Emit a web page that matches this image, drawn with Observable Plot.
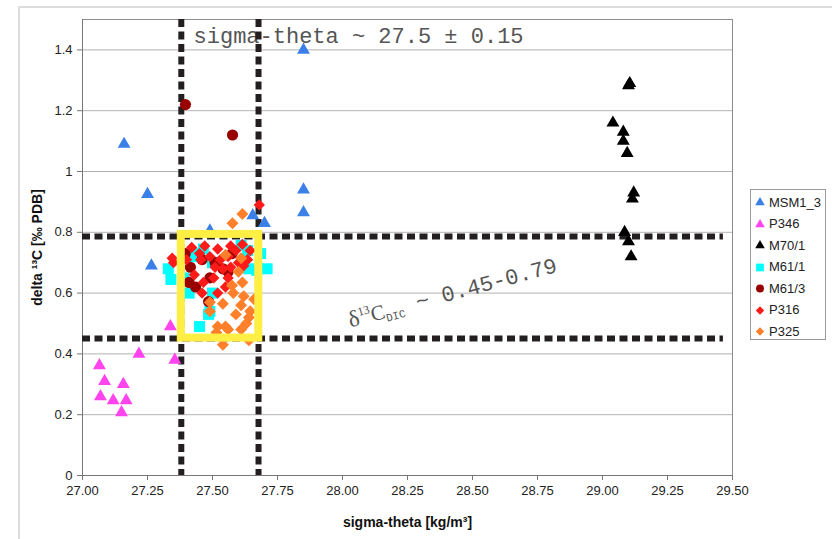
<!DOCTYPE html>
<html>
<head>
<meta charset="utf-8">
<script src="https://cdn.jsdelivr.net/npm/d3@7"></script>
<script src="https://cdn.jsdelivr.net/npm/@observablehq/plot@0.6"></script>
<style>
  html, body { margin: 0; padding: 0; background: #fff; overflow: hidden; }
  #wrap { position: relative; width: 832px; height: 539px; overflow: hidden; font-family: "Liberation Sans", Arial, sans-serif; }
  #outer { position: absolute; left: 18px; top: 6px; width: 900px; height: 700px; border: 2px solid #dcdcdc; box-sizing: border-box; }
  #chart { position: absolute; left: 0; top: 0; }
  #legend { position: absolute; left: 750px; top: 189px; width: 76px; height: 151px; border: 1px solid #9a9a9a; box-sizing: border-box; background: #fff; }
  .item { position: absolute; left: 3px; height: 20px; display: flex; align-items: center; font-size: 13px; color: #222; }
  .item svg { margin-right: 3px; }
</style>
</head>
<body>
<div id="wrap">
  <div id="outer"></div>
  <div id="chart"></div>
  <div id="legend"></div>
</div>
<script>
// ---- data ----
const seriesNames = ["MSM1_3", "P346", "M70/1", "M61/1", "M61/3", "P316", "P325"];
const xTicks = [27.00, 27.25, 27.50, 27.75, 28.00, 28.25, 28.50, 28.75, 29.00, 29.25, 29.50];
const yTicks = [0, 0.2, 0.4, 0.6, 0.8, 1, 1.2, 1.4];

const msm13 = [[27.16,1.09],[27.25,0.925],[27.85,1.40],[27.85,0.94],[27.85,0.865],[27.655,0.855],[27.70,0.83],[27.49,0.805],[27.265,0.69]];
const p346 = [[27.065,0.362],[27.085,0.31],[27.069,0.26],[27.118,0.247],[27.157,0.30],[27.168,0.247],[27.15,0.207],[27.217,0.40],[27.338,0.49],[27.355,0.38]];
const m701 = [[29.10,1.283],[29.105,1.29],[29.04,1.16],[29.08,1.13],[29.08,1.10],[29.095,1.06],[29.12,0.93],[29.115,0.91],[29.085,0.80],[29.10,0.77],[29.11,0.72]];
const m611 = [[27.33,0.68],[27.34,0.645],[27.39,0.65],[27.41,0.60],[27.43,0.72],[27.45,0.73],[27.465,0.745],[27.50,0.70],[27.50,0.60],[27.49,0.54],[27.485,0.53],[27.45,0.49],[27.61,0.757],[27.635,0.74],[27.64,0.68],[27.67,0.675],[27.685,0.73],[27.71,0.68]];
const m613 = [[27.396,1.22],[27.577,1.12],[27.395,0.73],[27.415,0.685],[27.41,0.635],[27.46,0.71],[27.49,0.65],[27.435,0.62],[27.51,0.70],[27.54,0.68],[27.56,0.67],[27.575,0.73],[27.485,0.572]];
const p316 = [[27.68,0.89],[27.345,0.715],[27.35,0.70],[27.40,0.71],[27.42,0.75],[27.45,0.73],[27.47,0.755],[27.49,0.72],[27.52,0.745],[27.53,0.71],[27.57,0.755],[27.59,0.74],[27.615,0.76],[27.645,0.74],[27.455,0.71],[27.46,0.60],[27.52,0.60],[27.505,0.65],[27.56,0.65],[27.56,0.72],[27.60,0.70],[27.51,0.685],[27.465,0.635],[27.43,0.66],[27.635,0.71],[27.57,0.685],[27.54,0.68],[27.55,0.62],[27.62,0.69]];
const p325 = [[27.615,0.86],[27.577,0.83],[27.55,0.725],[27.61,0.715],[27.60,0.67],[27.615,0.635],[27.575,0.625],[27.58,0.60],[27.62,0.59],[27.66,0.58],[27.49,0.57],[27.54,0.565],[27.61,0.56],[27.645,0.54],[27.49,0.54],[27.59,0.53],[27.64,0.52],[27.63,0.50],[27.52,0.49],[27.55,0.49],[27.56,0.48],[27.515,0.47],[27.61,0.48],[27.64,0.445],[27.54,0.43]];

const sigmaBand = [27.38, 27.677];     // vertical dashed lines
const dicBand = [0.451, 0.786];        // horizontal dashed lines
const boxX = [27.38, 27.678];
const boxY = [0.452, 0.793];
const topNote = "sigma-theta ~ 27.5 ± 0.15";
const dicNote = "δ13CDIC ~ 0.45-0.79";

// ---- styles per series ----
const styles = {
  "MSM1_3": {symbol: "triangle", fill: "#3a80e8", r: 4.8, d3s: d3.symbolTriangle, size: 40},
  "P346":   {symbol: "triangle", fill: "#ff44ee", r: 4.8, d3s: d3.symbolTriangle, size: 40},
  "M70/1":  {symbol: "triangle", fill: "#000000", r: 4.8, d3s: d3.symbolTriangle, size: 40},
  "M61/1":  {symbol: "square",   fill: "#00ffff", r: 6.2, d3s: d3.symbolSquare, size: 60},
  "M61/3":  {symbol: "circle",   fill: "#990000", r: 5.6, d3s: d3.symbolCircle, size: 50},
  "P316":   {symbol: "diamond2", fill: "#ff1a1a", r: 5.1, d3s: d3.symbolDiamond2, size: 44},
  "P325":   {symbol: "diamond2", fill: "#ff7f2a", r: 5.4, d3s: d3.symbolDiamond2, size: 44}
};
const seriesData = [msm13, p346, m701, m611, m613, p316, p325];
const toRows = (arr, name) => arr.map(([x, y]) => ({x, y, series: name}));

const dotMarks = seriesNames.map((name, i) => {
  const s = styles[name];
  return Plot.dot(toRows(seriesData[i], name), {x: "x", y: "y", symbol: () => s.symbol, fill: s.fill, r: s.r, stroke: "none"});
});

const chart = Plot.plot({
  width: 832,
  height: 539,
  marginLeft: 82,
  marginRight: 100,
  marginTop: 19,
  marginBottom: 64,
  x: {domain: [27, 29.5]},
  y: {domain: [0, 1.5]},
  symbol: {type: "identity"},
  style: {fontFamily: "'Liberation Sans', Arial, sans-serif", fontSize: "13px", color: "#222", background: "transparent", overflow: "visible"},
  marks: [
    Plot.ruleY(yTicks.filter(d => d > 0), {stroke: "#b3b3b3", strokeWidth: 1}),
    Plot.frame({stroke: "#8c8c8c"}),
    Plot.ruleX([27], {stroke: "#777"}),
    Plot.ruleY([0], {stroke: "#777"}),
    Plot.axisX({ticks: xTicks, tickFormat: d => d.toFixed(2), tickSize: 5, tickPadding: 5, label: null, stroke: "#777", fill: "#222"}),
    Plot.axisY({ticks: yTicks, tickFormat: d => String(d), tickSize: 5, tickPadding: 5, label: null, stroke: "#777", fill: "#222"}),
    Plot.text([topNote], {x: 27.427, y: 1.424, text: d => d, textAnchor: "start", lineAnchor: "bottom", fontFamily: "'Liberation Mono', 'Courier New', monospace", fontSize: 22, fill: "#555"}),
    Plot.text([dicNote], {x: 28.031, y: 0.487, text: d => d, textAnchor: "start", lineAnchor: "bottom", rotate: -15, fontFamily: "'Liberation Mono', 'Courier New', monospace", fontSize: 22, fill: "#555"}),
    Plot.ruleX(sigmaBand, {stroke: "#231f20", strokeWidth: 6, strokeDasharray: "8,4.5"}),
    Plot.ruleY(dicBand, {x1: 27.0, x2: 29.465, stroke: "#231f20", strokeWidth: 6, strokeDasharray: "8,4.5"}),
    ...dotMarks,
    Plot.rect([{x1: boxX[0], x2: boxX[1], y1: boxY[0], y2: boxY[1]}], {x1: "x1", x2: "x2", y1: "y1", y2: "y2", fill: "none", stroke: "#ffee44", strokeWidth: 8}),
    Plot.text(["delta ¹³C [‰ PDB]"], {frameAnchor: "left", dx: -45, rotate: -90, textAnchor: "middle", lineAnchor: "middle", text: d => d, fontWeight: "bold", fontSize: 14, fill: "#111"}),
    Plot.text(["sigma-theta [kg/m³]"], {frameAnchor: "bottom", dy: 51, textAnchor: "middle", text: d => d, fontWeight: "bold", fontSize: 14, fill: "#111"})
  ]
});
document.getElementById("chart").appendChild(chart);

// rich text for the rotated DIC annotation
const note = Array.from(chart.querySelectorAll("text")).find(t => t.textContent === dicNote);
if (note) {
  note.textContent = "";
  note.setAttribute("style", "white-space: pre");
  const ns = "http://www.w3.org/2000/svg";
  const parts = [
    {t: "δ", ff: "'Liberation Serif', 'Times New Roman', serif", fs: 23, dy: 0},
    {t: "13", ff: "'Liberation Serif', 'Times New Roman', serif", fs: 12, dy: -9},
    {t: "C", ff: "'Liberation Serif', 'Times New Roman', serif", fs: 21, dy: 9},
    {t: "DIC", ff: "'Liberation Mono', monospace", fs: 11, dy: 4},
    {t: " ~ 0.45-0.79", ff: "'Liberation Mono', monospace", fs: 22, dy: -4}
  ];
  for (const p of parts) {
    const ts = document.createElementNS(ns, "tspan");
    ts.textContent = p.t;
    ts.setAttribute("font-family", p.ff);
    ts.setAttribute("font-size", p.fs);
    if (p.dy) ts.setAttribute("dy", p.dy);
    note.appendChild(ts);
  }
}

// legend
const legend = document.getElementById("legend");
seriesNames.forEach((name, i) => {
  const s = styles[name];
  const item = document.createElement("div");
  item.className = "item";
  item.style.top = (2 + i * 21.5) + "px";
  const svg = d3.create("svg").attr("width", 12).attr("height", 12);
  svg.append("path").attr("transform", "translate(6,6.5)").attr("d", d3.symbol(s.d3s, s.size)()).attr("fill", s.fill);
  item.appendChild(svg.node());
  const span = document.createElement("span");
  span.textContent = name;
  item.appendChild(span);
  legend.appendChild(item);
});
</script>
</body>
</html>
